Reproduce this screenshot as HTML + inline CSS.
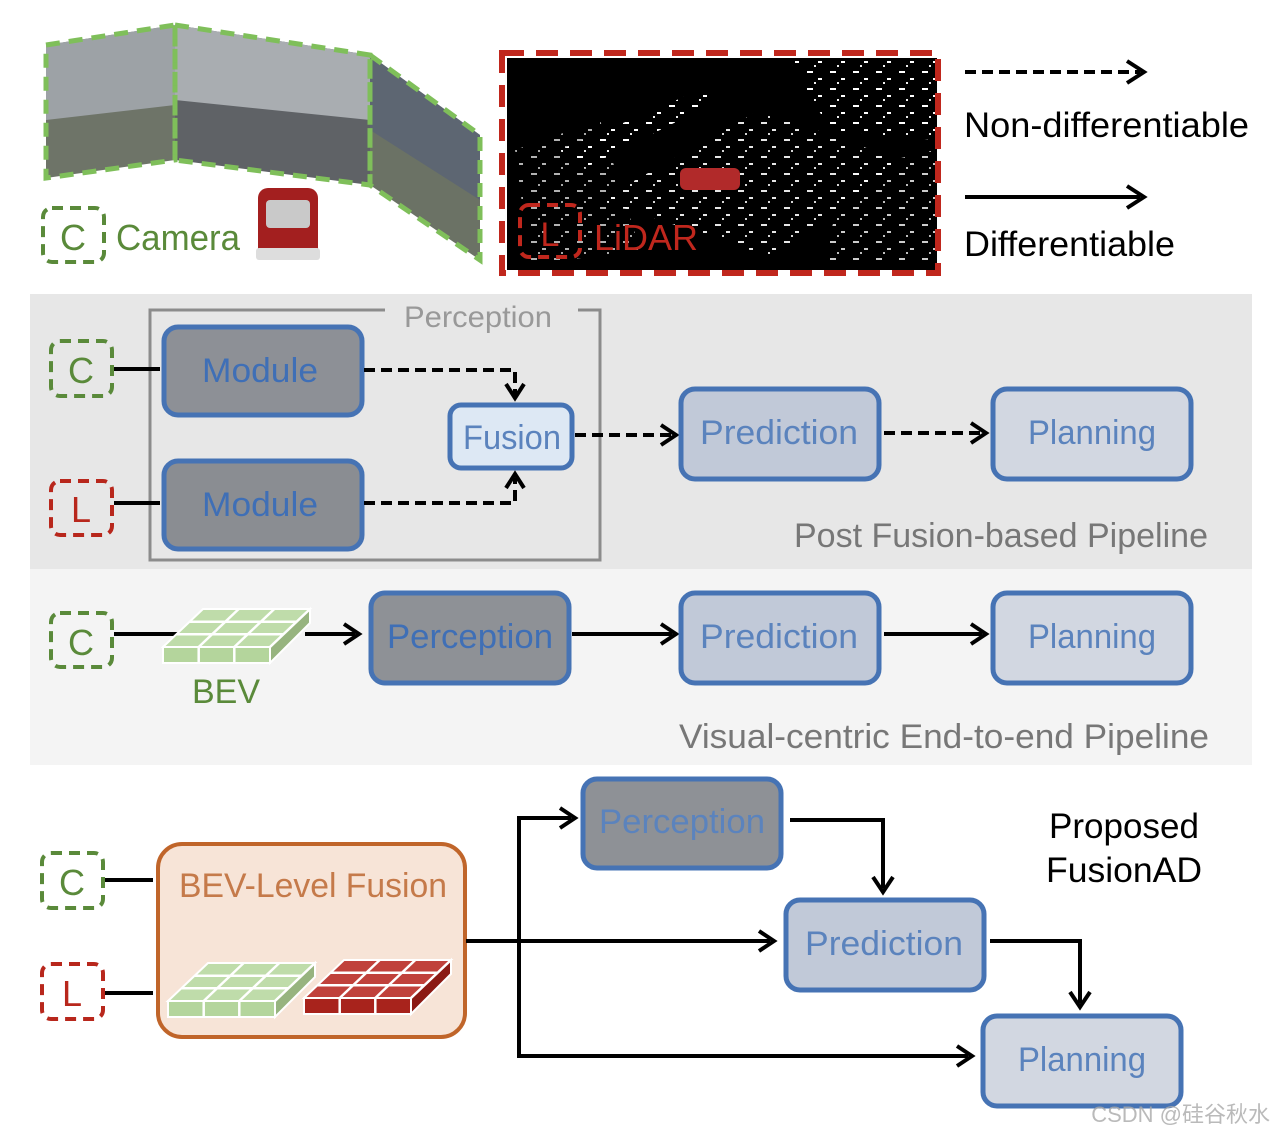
<!DOCTYPE html>
<html><head><meta charset="utf-8"><style>
html,body{margin:0;padding:0;background:#fff}
svg{display:block}
text{font-family:"Liberation Sans","Noto Sans CJK SC",sans-serif}
</style></head><body>
<svg width="1276" height="1136" viewBox="0 0 1276 1136" xmlns="http://www.w3.org/2000/svg">
<defs>
<pattern id="spk" width="23" height="17" patternUnits="userSpaceOnUse">
<rect x="2" y="3" width="6" height="2" fill="#fff"/><rect x="13" y="10" width="4" height="2" fill="#fff"/><rect x="9" y="14" width="2" height="2" fill="#eee"/>
</pattern>
<g id="grid">
 <polygon points="40,0 147,0 107,38 0,38" fill="var(--t)" stroke="#fff" stroke-width="2"/>
 <rect x="0" y="38" width="107" height="16" fill="var(--f)" stroke="#fff" stroke-width="2"/>
 <polygon points="107,38 147,0 147,14 107,54" fill="var(--s)" stroke="#fff" stroke-width="2"/>
 <g stroke="#fff" stroke-width="2.5">
 <line x1="75.7" y1="0" x2="35.7" y2="38"/><line x1="111.3" y1="0" x2="71.3" y2="38"/>
 <line x1="26.7" y1="12.7" x2="133.7" y2="12.7"/><line x1="13.3" y1="25.3" x2="120.3" y2="25.3"/>
 <line x1="35.7" y1="38" x2="35.7" y2="54"/><line x1="71.3" y1="38" x2="71.3" y2="54"/>
 <line x1="107" y1="38" x2="147" y2="0"/>
 </g>
</g>
</defs>

<!-- camera images -->
<polygon points="46,45 175,25 175,160 46,178" fill="#6e7468"/>
<polygon points="46,45 175,25 175,105 46,120" fill="#9da2a6"/>
<polygon points="175,25 370,55 370,185 175,160" fill="#5f6266"/>
<polygon points="175,25 370,55 370,120 175,100" fill="#a9adb1"/>
<polygon points="370,55 480,135 480,260 370,185" fill="#6b7265"/>
<polygon points="370,55 480,135 480,200 370,130" fill="#5d6672"/>
<g fill="none" stroke="#7fbf5a" stroke-width="5" stroke-dasharray="14,9">
<polygon points="46,45 175,25 175,160 46,178"/>
<polygon points="175,25 370,55 370,185 175,160"/>
<polygon points="370,55 480,135 480,260 370,185"/>
</g>
<!-- car -->
<rect x="258" y="188" width="60" height="70" rx="10" fill="#a31f1f"/>
<rect x="266" y="200" width="44" height="28" rx="4" fill="#c9c9c9"/>
<rect x="256" y="248" width="64" height="12" rx="3" fill="#ddd"/>
<!-- C Camera -->
<rect x="43" y="208" width="61" height="54" rx="9" fill="none" stroke="#5a8a3a" stroke-width="4" stroke-dasharray="11,7"/>
<text x="73" y="250" font-size="36" fill="#5a8a3a" text-anchor="middle">C</text>
<text x="116" y="250" font-size="36" fill="#5a8a3a" textLength="124" lengthAdjust="spacingAndGlyphs">Camera</text>

<!-- lidar -->
<rect x="507" y="58" width="430" height="212" fill="#000"/>
<polygon points="600,200 760,110 900,160 780,260" fill="url(#spk)" opacity="0.9"/>
<polygon points="560,150 700,90 720,100 580,170" fill="url(#spk)"/>
<polygon points="790,60 935,60 935,140 830,130" fill="url(#spk)"/>
<polygon points="515,150 600,120 640,250 530,265" fill="url(#spk)" opacity="0.7"/>
<polygon points="850,170 935,150 935,265 820,265" fill="url(#spk)" opacity="0.8"/>
<rect x="680" y="168" width="60" height="22" rx="6" fill="#b12a2a"/>
<rect x="502" y="53" width="436" height="220" fill="none" stroke="#c0271d" stroke-width="6" stroke-dasharray="22,12"/>
<rect x="520" y="205" width="60" height="52" rx="9" fill="none" stroke="#c0271d" stroke-width="4" stroke-dasharray="11,7"/>
<text x="550" y="246" font-size="34" fill="#c0271d" text-anchor="middle">L</text>
<text x="594" y="250" font-size="36" fill="#c0271d" textLength="104" lengthAdjust="spacingAndGlyphs">LiDAR</text>

<!-- legend -->
<line x1="965" y1="72" x2="1140" y2="72" stroke="#000" stroke-width="4" stroke-dasharray="11,6"/>
<polyline points="1127,61 1144,72 1127,83" fill="none" stroke="#000" stroke-width="4"/>
<text x="964" y="137" font-size="35" fill="#000" textLength="285" lengthAdjust="spacingAndGlyphs">Non-differentiable</text>
<line x1="965" y1="197" x2="1140" y2="197" stroke="#000" stroke-width="4"/>
<polyline points="1127,186 1144,197 1127,208" fill="none" stroke="#000" stroke-width="4"/>
<text x="964" y="256" font-size="35" fill="#000" textLength="211" lengthAdjust="spacingAndGlyphs">Differentiable</text>

<!-- section backgrounds -->
<rect x="30" y="294" width="1222" height="275" fill="#e7e7e7"/>
<rect x="30" y="569" width="1222" height="196" fill="#f4f4f4"/>

<!-- post fusion -->
<polyline points="385,310 150,310 150,560 600,560 600,310 578,310" fill="none" stroke="#8c8c8c" stroke-width="3"/>
<text x="404" y="327" font-size="30" fill="#999" textLength="148" lengthAdjust="spacingAndGlyphs">Perception</text>

<rect x="51" y="341" width="61" height="55" rx="9" fill="none" stroke="#5a8a3a" stroke-width="4" stroke-dasharray="11,7"/>
<text x="81" y="383" font-size="36" fill="#5a8a3a" text-anchor="middle">C</text>
<rect x="51" y="481" width="61" height="54" rx="9" fill="none" stroke="#b8271c" stroke-width="4" stroke-dasharray="11,7"/>
<text x="81" y="522" font-size="36" fill="#b8271c" text-anchor="middle">L</text>
<line x1="114" y1="369" x2="160" y2="369" stroke="#000" stroke-width="4"/>
<line x1="114" y1="503" x2="160" y2="503" stroke="#000" stroke-width="4"/>

<rect x="164" y="327" width="198" height="88" rx="14" fill="#8d9096" stroke="#4673b4" stroke-width="5"/>
<text x="260" y="382" font-size="34" fill="#3f6fb6" text-anchor="middle" textLength="116" lengthAdjust="spacingAndGlyphs">Module</text>
<rect x="164" y="461" width="198" height="88" rx="14" fill="#8a8d92" stroke="#4673b4" stroke-width="5"/>
<text x="260" y="516" font-size="34" fill="#3f6fb6" text-anchor="middle" textLength="116" lengthAdjust="spacingAndGlyphs">Module</text>

<rect x="450" y="405" width="122" height="63" rx="11" fill="#dde8f4" stroke="#4673b4" stroke-width="5"/>
<text x="512" y="449" font-size="34" fill="#5b83bd" text-anchor="middle" textLength="98" lengthAdjust="spacingAndGlyphs">Fusion</text>

<g fill="none" stroke="#000" stroke-width="4">
<polyline points="364,370 515,370 515,396" stroke-dasharray="11,6"/>
<polyline points="506,384 515,398 524,384"/>
<polyline points="364,503 515,503 515,478" stroke-dasharray="11,6"/>
<polyline points="506,488 515,474 524,488"/>
<line x1="575" y1="435" x2="672" y2="435" stroke-dasharray="11,6"/>
<polyline points="661,425 676,435 661,445"/>
<line x1="884" y1="433" x2="982" y2="433" stroke-dasharray="11,6"/>
<polyline points="971,423 986,433 971,443"/>
</g>

<rect x="681" y="389" width="198" height="90" rx="14" fill="#c1c9d8" stroke="#4673b4" stroke-width="5"/>
<text x="779" y="444" font-size="34" fill="#5b83bd" text-anchor="middle" textLength="158" lengthAdjust="spacingAndGlyphs">Prediction</text>
<rect x="993" y="389" width="198" height="90" rx="14" fill="#d2d7e1" stroke="#4673b4" stroke-width="5"/>
<text x="1092" y="444" font-size="34" fill="#5b83bd" text-anchor="middle" textLength="128" lengthAdjust="spacingAndGlyphs">Planning</text>
<text x="1208" y="547" font-size="34" fill="#777" text-anchor="end" textLength="414" lengthAdjust="spacingAndGlyphs">Post Fusion-based Pipeline</text>

<!-- visual-centric -->
<rect x="51" y="613" width="61" height="54" rx="9" fill="none" stroke="#5a8a3a" stroke-width="4" stroke-dasharray="11,7"/>
<text x="81" y="655" font-size="36" fill="#5a8a3a" text-anchor="middle">C</text>
<line x1="114" y1="634" x2="180" y2="634" stroke="#000" stroke-width="4"/>
<use href="#grid" x="163" y="609" style="--t:#bfdcaa;--f:#b4d59c;--s:#97b47f"/>
<line x1="305" y1="634" x2="355" y2="634" stroke="#000" stroke-width="4"/>
<polyline points="344,624 359,634 344,644" fill="none" stroke="#000" stroke-width="4"/>
<text x="226" y="703" font-size="34" fill="#5a8a3a" text-anchor="middle">BEV</text>
<rect x="371" y="593" width="198" height="90" rx="14" fill="#8e9196" stroke="#4673b4" stroke-width="5"/>
<text x="470" y="648" font-size="34" fill="#3f6fb6" text-anchor="middle" textLength="166" lengthAdjust="spacingAndGlyphs">Perception</text>
<g fill="none" stroke="#000" stroke-width="4">
<line x1="572" y1="634" x2="672" y2="634"/><polyline points="661,624 676,634 661,644"/>
<line x1="884" y1="634" x2="982" y2="634"/><polyline points="971,624 986,634 971,644"/>
</g>
<rect x="681" y="593" width="198" height="90" rx="14" fill="#c1c9d8" stroke="#4673b4" stroke-width="5"/>
<text x="779" y="648" font-size="34" fill="#5b83bd" text-anchor="middle" textLength="158" lengthAdjust="spacingAndGlyphs">Prediction</text>
<rect x="993" y="593" width="198" height="90" rx="14" fill="#d2d7e1" stroke="#4673b4" stroke-width="5"/>
<text x="1092" y="648" font-size="34" fill="#5b83bd" text-anchor="middle" textLength="128" lengthAdjust="spacingAndGlyphs">Planning</text>
<text x="1209" y="748" font-size="34" fill="#777" text-anchor="end" textLength="530" lengthAdjust="spacingAndGlyphs">Visual-centric End-to-end Pipeline</text>

<!-- FusionAD -->
<rect x="42" y="853" width="61" height="55" rx="9" fill="none" stroke="#5a8a3a" stroke-width="4" stroke-dasharray="11,7"/>
<text x="72" y="895" font-size="36" fill="#5a8a3a" text-anchor="middle">C</text>
<rect x="42" y="964" width="61" height="55" rx="9" fill="none" stroke="#b8271c" stroke-width="4" stroke-dasharray="11,7"/>
<text x="72" y="1006" font-size="36" fill="#b8271c" text-anchor="middle">L</text>
<line x1="105" y1="880" x2="153" y2="880" stroke="#000" stroke-width="4"/>
<line x1="105" y1="993" x2="153" y2="993" stroke="#000" stroke-width="4"/>
<rect x="158" y="844" width="307" height="193" rx="24" fill="#f7e4d7" stroke="#c0652a" stroke-width="4"/>
<text x="313" y="897" font-size="34" fill="#c57a4a" text-anchor="middle" textLength="268" lengthAdjust="spacingAndGlyphs">BEV-Level Fusion</text>
<use href="#grid" x="168" y="963" style="--t:#bfdcaa;--f:#b4d59c;--s:#97b47f"/>
<use href="#grid" x="304" y="960" style="--t:#c0413b;--f:#a8231c;--s:#8b1a14"/>

<g fill="none" stroke="#000" stroke-width="4">
<line x1="466" y1="941" x2="770" y2="941"/><polyline points="759,931 774,941 759,951"/>
<polyline points="571,818 519,818 519,1056 968,1056"/>
<polyline points="560,808 575,818 560,828"/>
<polyline points="957,1046 972,1056 957,1066"/>
<polyline points="790,820 883,820 883,888"/><polyline points="873,877 883,892 893,877"/>
<polyline points="990,941 1080,941 1080,1003"/><polyline points="1070,992 1080,1007 1090,992"/>
</g>
<rect x="583" y="779" width="198" height="89" rx="14" fill="#8e9196" stroke="#4673b4" stroke-width="5"/>
<text x="682" y="833" font-size="34" fill="#5b83bd" text-anchor="middle" textLength="166" lengthAdjust="spacingAndGlyphs">Perception</text>
<rect x="786" y="900" width="198" height="90" rx="14" fill="#c1c9d8" stroke="#4673b4" stroke-width="5"/>
<text x="884" y="955" font-size="34" fill="#5b83bd" text-anchor="middle" textLength="158" lengthAdjust="spacingAndGlyphs">Prediction</text>
<rect x="983" y="1016" width="198" height="90" rx="14" fill="#d2d7e1" stroke="#4673b4" stroke-width="5"/>
<text x="1082" y="1071" font-size="34" fill="#5b83bd" text-anchor="middle" textLength="128" lengthAdjust="spacingAndGlyphs">Planning</text>
<text x="1124" y="838" font-size="35" fill="#000" text-anchor="middle" textLength="150" lengthAdjust="spacingAndGlyphs">Proposed</text>
<text x="1124" y="882" font-size="35" fill="#000" text-anchor="middle" textLength="156" lengthAdjust="spacingAndGlyphs">FusionAD</text>
<text x="1270" y="1122" font-size="22" fill="#aaa" text-anchor="end" opacity="0.8">CSDN @硅谷秋水</text>
</svg>
</body></html>
